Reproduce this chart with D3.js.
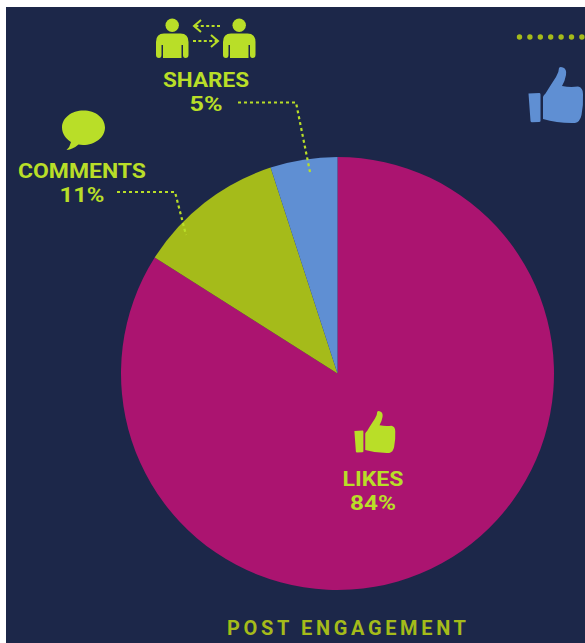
<!DOCTYPE html>
<html>
<head>
<meta charset="utf-8">
<script src="https://cdn.jsdelivr.net/npm/d3@7/dist/d3.min.js"></script>
<style>
html,body{margin:0;padding:0;background:#fff;}
svg{display:block;}
text{font-family:Roboto,"Open Sans",sans-serif;font-weight:700;}
</style>
</head>
<body>
<svg id="chart" width="585" height="643"></svg>
<script>
// Post engagement shares, drawn clockwise from twelve o'clock
const categories = ["LIKES", "COMMENTS", "SHARES"];
const shareValues = [84, 11, 5];
const sliceColors = ["#ab1470", "#a5bb1a", "#5f8fd3"];
const chartTitle = "POST ENGAGEMENT";

const NAVY = "#1c2749", LIME = "#b9de28", OLIVE = "#a5bb1a", BLUE = "#5f8fd3";
const svg = d3.select("#chart");

svg.append("rect").attr("x", 6).attr("y", 7).attr("width", 579).attr("height", 636).attr("fill", NAVY);

// Pie
const cx = 337.5, cy = 373.5, radius = 216.5;
const pie = d3.pie().sort(null).value(d => d);
const arc = d3.arc().innerRadius(0).outerRadius(radius);
svg.append("g").attr("transform", `translate(${cx},${cy})`)
  .selectAll("path").data(pie(shareValues)).join("path")
  .attr("d", arc)
  .attr("fill", (d, i) => sliceColors[i]);

// Thumbs-up glyph, 55 wide by 56 tall at scale 1
const thumbPath =
  "M0.5,26.5 L11.5,26 Q12.5,26 12.5,27.5 L12.5,54 Q12.5,55 11,55 L4,55.3 Q2.7,55.3 2.5,54 Z " +
  "M15,30 Q15.5,28 17.5,26.5 Q24,16 28,10 Q31,5 31,1 Q32,-0.5 35,0.5 Q39,2 38,8 Q37,14 34,19 " +
  "Q42,20.5 50,19.5 Q55,20.5 55,27 Q55.5,38 53.5,48 Q52,55 47,56 Q30,56.5 15,52 Z";

function thumb(x, y, s, color) {
  svg.append("path").attr("d", thumbPath)
    .attr("transform", `translate(${x},${y}) scale(${s})`)
    .attr("fill", color);
}
thumb(528, 67, 1, BLUE);
thumb(354, 411, 0.75, LIME);

// Person glyph, origin at the top-left of the shoulders' box
function person(x) {
  const g = svg.append("g").attr("transform", `translate(${x},18)`).attr("fill", LIME);
  g.append("circle").attr("cx", 16.2).attr("cy", 7.2).attr("r", 6.7);
  g.append("path").attr("d",
    "M0,24 Q0,15.5 8,15.5 L24.5,15.5 Q32.5,15.5 32.5,24 L32.5,37 Q32.5,40 29.5,40 Q27,40 27,37 " +
    "L27,27 L25.5,27 L25.5,40 L7,40 L7,27 L5.5,27 L5.5,37 Q5.5,40 3,40 Q0,40 0,37 Z");
}
person(156);
person(223);

// Dashed exchange arrows between the two figures
const dashedStroke = sel => sel.attr("fill", "none").attr("stroke", LIME).attr("stroke-width", 2);
svg.append("line").attr("x1", 220).attr("y1", 26).attr("x2", 195).attr("y2", 26)
  .call(dashedStroke).attr("stroke-dasharray", "3 2.4");
svg.append("path").attr("d", "M201,20 L194,26 L201,32").call(dashedStroke);
svg.append("line").attr("x1", 193).attr("y1", 41).attr("x2", 217).attr("y2", 41)
  .call(dashedStroke).attr("stroke-dasharray", "3 2.4");
svg.append("path").attr("d", "M211,35 L218,41 L211,47").call(dashedStroke);

// Speech bubble
svg.append("path").attr("fill", LIME).attr("d",
  "M83.5,110.5 C95.5,110.5 105,118 105,127.5 C105,137.5 95,145 83,145 Q80.5,145 78.5,144.6 " +
  "Q73,149.5 66.5,150 Q70,147 71,142 C66,139 62,133.5 62,127.5 C62,118 71.5,110.5 83.5,110.5 Z");

// Dotted leaders from the labels into their slices
const leader = d3.line();
function dotted(points) {
  svg.append("path").attr("d", leader(points)).attr("fill", "none")
    .attr("stroke", LIME).attr("stroke-width", 2.2).attr("stroke-dasharray", "3 3");
}
dotted([[238, 102.5], [296, 102.5], [310, 172]]);
dotted([[117, 192], [175, 192], [186, 235]]);

// Row of dots running off the right edge
svg.append("g").selectAll("circle").data(d3.range(7)).join("circle")
  .attr("cx", i => 519.5 + i * 10.4).attr("cy", 37).attr("r", 2.7).attr("fill", OLIVE);

// Slice labels
const labelSpots = [
  { x: 373, y1: 486, y2: 509.5 },
  { x: 82, y1: 178, y2: 201.5 },
  { x: 206, y1: 87, y2: 110.5 }
];
const labelFit = [61, 128, 86];
const percentFit = [46, 45, 33];
categories.forEach((name, i) => {
  const p = labelSpots[i];
  const size = 20;
  svg.append("text").attr("x", p.x).attr("y", p.y1).attr("text-anchor", "middle")
    .attr("font-size", size).attr("fill", LIME)
    .attr("textLength", labelFit[i]).attr("lengthAdjust", "spacingAndGlyphs").text(name);
  svg.append("text").attr("x", p.x).attr("y", p.y2).attr("text-anchor", "middle")
    .attr("font-size", size).attr("fill", LIME)
    .attr("textLength", percentFit[i]).attr("lengthAdjust", "spacingAndGlyphs")
    .text(shareValues[i] + "%");
});

// Title
svg.append("text").attr("x", 227).attr("y", 635)
  .attr("font-size", 20).attr("fill", OLIVE)
  .attr("textLength", 239).attr("lengthAdjust", "spacing")
  .text(chartTitle);
</script>
</body>
</html>
